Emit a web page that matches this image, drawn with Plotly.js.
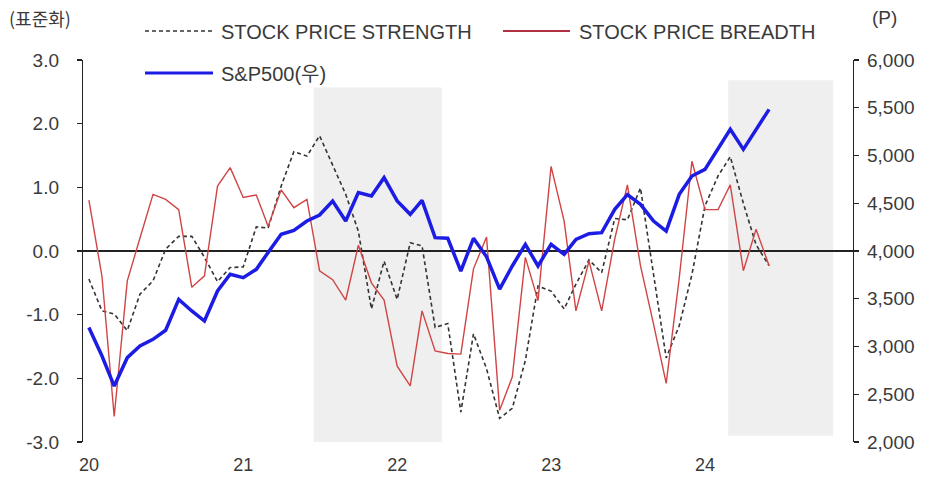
<!DOCTYPE html>
<html>
<head>
<meta charset="utf-8">
<script src="https://cdn.plot.ly/plotly-3.0.1.min.js"></script>
<style>html,body{margin:0;padding:0;background:#fff;}#chart{width:952px;height:484px;}</style>
</head>
<body>
<div id="chart"></div>
<script>
const months = [
 "2020-01-15","2020-02-15","2020-03-15","2020-04-15","2020-05-15","2020-06-15","2020-07-15","2020-08-15","2020-09-15","2020-10-15","2020-11-15","2020-12-15",
 "2021-01-15","2021-02-15","2021-03-15","2021-04-15","2021-05-15","2021-06-15","2021-07-15","2021-08-15","2021-09-15","2021-10-15","2021-11-15","2021-12-15",
 "2022-01-15","2022-02-15","2022-03-15","2022-04-15","2022-05-15","2022-06-15","2022-07-15","2022-08-15","2022-09-15","2022-10-15","2022-11-15","2022-12-15",
 "2023-01-15","2023-02-15","2023-03-15","2023-04-15","2023-05-15","2023-06-15","2023-07-15","2023-08-15","2023-09-15","2023-10-15","2023-11-15","2023-12-15",
 "2024-01-15","2024-02-15","2024-03-15","2024-04-15","2024-05-15","2024-06-15"
];
const strength = [
 -0.44,-0.94,-0.99,-1.25,-0.68,-0.47,0.03,0.23,0.23,-0.10,-0.48,-0.26,
 -0.25,0.38,0.36,1.02,1.56,1.49,1.81,1.35,0.89,0.31,-0.91,-0.16,
 -0.76,0.13,0.08,-1.20,-1.14,-2.53,-1.30,-1.85,-2.63,-2.47,-1.72,-0.55,
 -0.63,-0.91,-0.52,-0.14,-0.34,0.51,0.49,0.99,-0.40,-1.68,-1.17,-0.37,
 0.71,1.18,1.48,0.75,0.10,-0.23
];
const breadth = [
 0.80,-0.40,-2.60,-0.47,0.20,0.89,0.81,0.65,-0.57,-0.39,1.02,1.31,
 0.84,0.88,0.39,0.96,0.68,0.81,-0.31,-0.45,-0.77,0.09,-0.50,-0.77,
 -1.81,-2.12,-0.94,-1.57,-1.61,-1.62,-0.28,0.22,-2.50,-1.98,-0.10,-0.78,
 1.33,0.47,-0.94,-0.16,-0.94,0.19,1.04,-0.23,-1.15,-2.08,-0.42,1.41,
 0.65,0.65,1.04,-0.31,0.34,-0.23
];
const sp500 = [
 3200,2900,2586,2883,3005,3075,3170,3494,3372,3267,3581,3756,
 3721,3808,3985,4175,4216,4314,4377,4524,4314,4611,4576,4768,
 4524,4384,4530,4140,4133,3790,4133,3940,3600,3843,4070,3843,
 4070,3965,4122,4181,4192,4436,4590,4489,4314,4209,4593,4785,
 4855,5064,5274,5064,5274,5483
];
const yearTicks = ["2020-01-01","2021-01-01","2022-01-01","2023-01-01","2024-01-01"];
const yearLabels = ["20","21","22","23","24"];
const leftTickVals = [-3,-2,-1,0,1,2,3];
const leftTickLabels = ["-3.0","-2.0","-1.0","0.0","1.0","2.0","3.0"];
const seriesNames = ["STOCK PRICE STRENGTH","STOCK PRICE BREADTH","S&P500(우)"];
const shadeSpans = [["2021-07-01","2022-05-01",-3.0,2.57],["2024-03-10","2024-11-14",-2.9,2.68]];

const FONT = '"Liberation Sans","Noto Sans CJK KR",sans-serif';
const KFONT = '"Noto Sans CJK KR","Liberation Sans",sans-serif';
const TXT = '#3a3a3a';

const traces = [
 {x: months, y: strength, type:'scatter', mode:'lines', name: seriesNames[0],
  line:{color:'#333333', width:1.6, dash:'4px,3px'}, yaxis:'y', showlegend:false},
 {x: months, y: breadth, type:'scatter', mode:'lines', name: seriesNames[1],
  line:{color:'#cf4545', width:1.4}, yaxis:'y', showlegend:false},
 {x: months, y: sp500, type:'scatter', mode:'lines', name: seriesNames[2],
  line:{color:'#1c1ce4', width:3.5}, yaxis:'y2', showlegend:false}
];

// paper coordinate helpers (plot area: x 83..853, y 60..442)
const L = 83, R = 853, T = 60, B = 442;
const px = v => (v - L) / (R - L);
const py = v => (B - v) / (B - T);

const shapes = shadeSpans.map(s => ({
 type:'rect', xref:'x', yref:'y', x0:s[0], x1:s[1], y0:s[2], y1:s[3],
 fillcolor:'#efefef', line:{width:0}, layer:'below'
}));
// manual legend samples
shapes.push({type:'line', xref:'paper', yref:'paper', x0:px(145), x1:px(213), y0:py(31), y1:py(31), line:{color:'#333333', width:1.6, dash:'4px,3px'}});
shapes.push({type:'line', xref:'paper', yref:'paper', x0:px(503), x1:px(570), y0:py(31), y1:py(31), line:{color:'#b03040', width:1.8}});
shapes.push({type:'line', xref:'paper', yref:'paper', x0:px(145), x1:px(213), y0:py(73), y1:py(73), line:{color:'#1c1ce4', width:3}});

const annFont = {family: FONT, size: 20, color: TXT};
const annotations = [
 {xref:'paper', yref:'paper', x:px(219), y:py(32), xanchor:'left', yanchor:'middle', text: seriesNames[0], showarrow:false, font:annFont},
 {xref:'paper', yref:'paper', x:px(577), y:py(32), xanchor:'left', yanchor:'middle', text: seriesNames[1], showarrow:false, font:annFont},
 {xref:'paper', yref:'paper', x:px(219), y:py(74), xanchor:'left', yanchor:'middle', text: seriesNames[2], showarrow:false, font:annFont},
 {xref:'paper', yref:'paper', x:px(40), y:py(18), xanchor:'center', yanchor:'middle', text:'(표준화)', showarrow:false, font:{family:KFONT, size:18, color:TXT}},
 {xref:'paper', yref:'paper', x:px(884), y:py(18), xanchor:'center', yanchor:'middle', text:'(P)', showarrow:false, font:{family:FONT, size:19, color:TXT}}
];

const layout = {
 width:952, height:484,
 margin:{l:L, r:952-R, t:T, b:484-B, pad:0},
 paper_bgcolor:'#ffffff', plot_bgcolor:'rgba(0,0,0,0)',
 font:{family:FONT, size:19, color:TXT},
 showlegend:false,
 xaxis:{
  type:'date', range:["2020-01-01","2024-12-31"],
  tickmode:'array', tickvals: yearTicks, ticktext: yearLabels,
  ticks:'', showline:false, showgrid:false, zeroline:false,
  ticklabelshift:6, ticklabelstandoff:10,
  tickfont:{family:FONT, size:18, color:TXT}
 },
 yaxis:{
  range:[-3,3], tickmode:'array', tickvals: leftTickVals, ticktext: leftTickLabels,
  ticks:'outside', ticklen:5, tickwidth:1.2, tickcolor:'#222',
  showline:true, linecolor:'#222', linewidth:1.2,
  showgrid:false, zeroline:true, zerolinecolor:'#222', zerolinewidth:1.6,
  ticklabelstandoff:14,
  tickfont:{family:FONT, size:19, color:TXT}
 },
 yaxis2:{
  overlaying:'y', side:'right', range:[2000,6000], dtick:500, tick0:2000,
  tickformat:',', ticks:'outside', ticklen:5, tickwidth:1.2, tickcolor:'#222',
  showline:true, linecolor:'#222', linewidth:1.2, showgrid:false, zeroline:false,
  ticklabelstandoff:4,
  tickfont:{family:FONT, size:19, color:TXT}
 },
 shapes: shapes,
 annotations: annotations
};

Plotly.newPlot('chart', traces, layout, {staticPlot:true, displayModeBar:false});
</script>
</body>
</html>
